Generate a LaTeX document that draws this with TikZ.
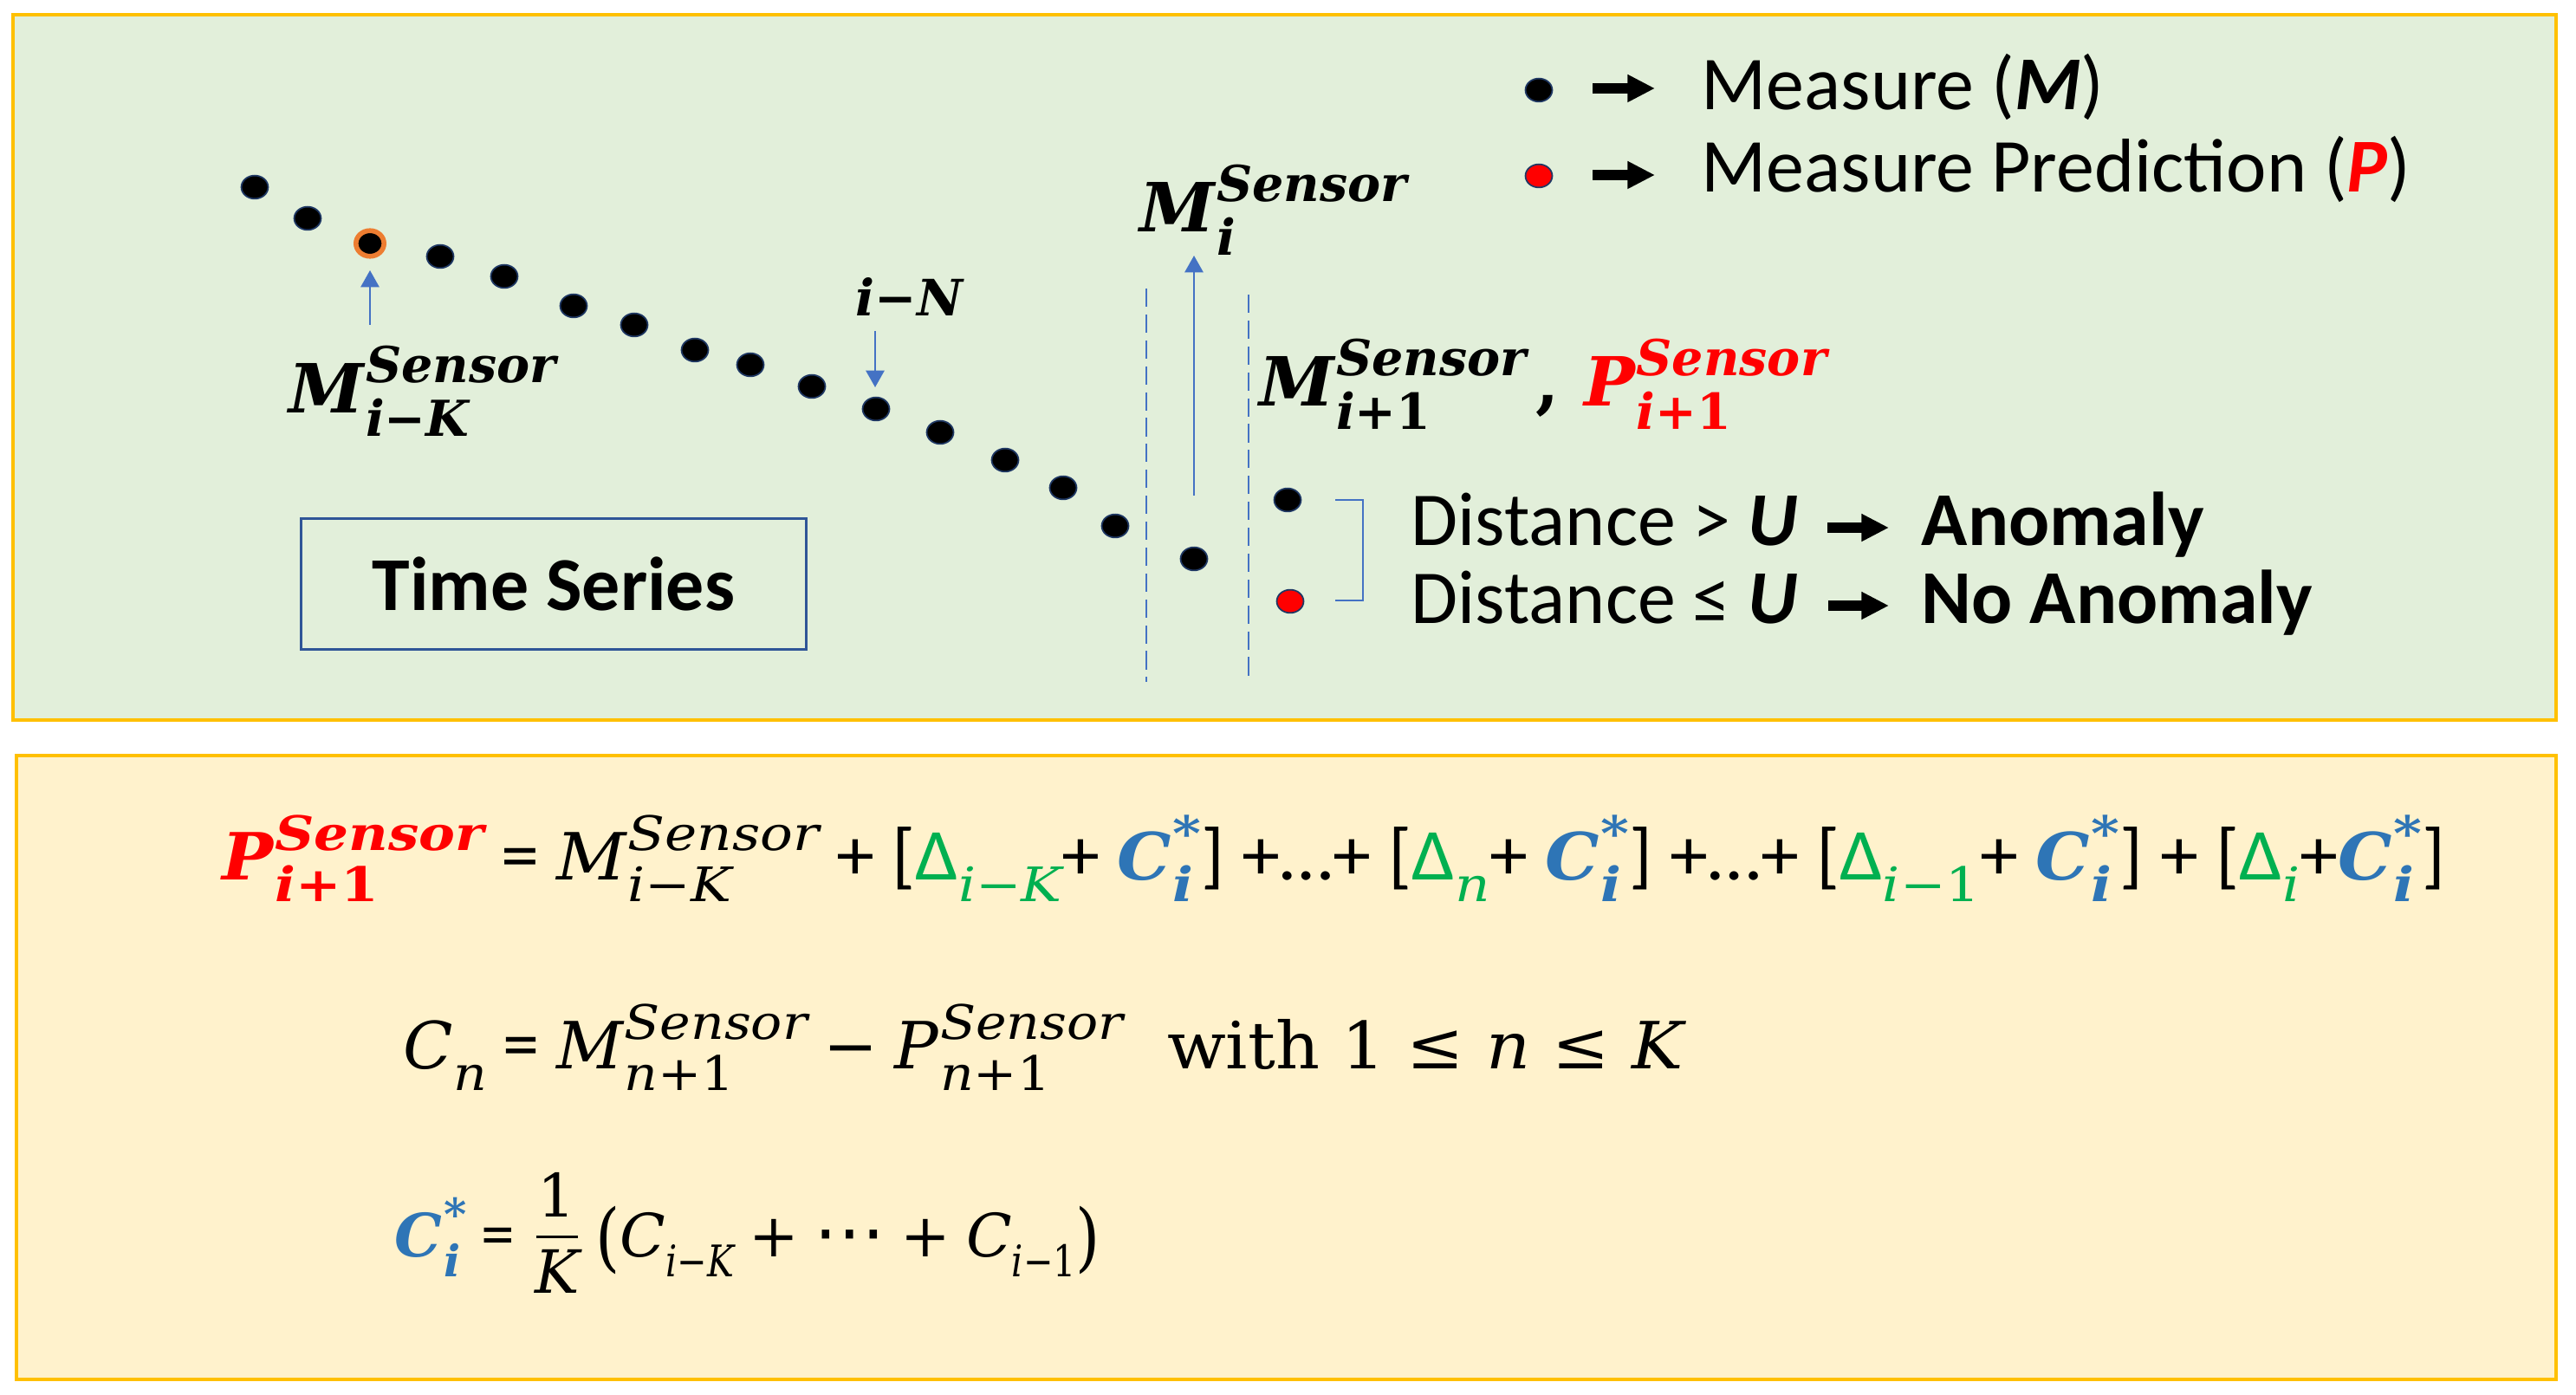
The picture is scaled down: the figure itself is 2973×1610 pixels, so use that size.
\documentclass[tikz,border=0pt]{standalone}
\usepackage{graphicx}
\usepackage{fontspec}
\setmainfont{Carlito}
\newfontfamily\mfont[Scale=0.89]{DejaVu Serif}
\newfontfamily\symfont[Scale=0.89]{DejaVu Sans}
\usetikzlibrary{arrows.meta,shapes.geometric}
\definecolor{topfill}{HTML}{E2EFDA}
\definecolor{botfill}{HTML}{FFF2CC}
\definecolor{gold}{HTML}{FFC000}
\definecolor{arrblue}{HTML}{4472C4}
\definecolor{boxblue}{HTML}{2F5597}
\definecolor{pred}{HTML}{FF0000}
\definecolor{dgreen}{HTML}{00B050}
\definecolor{cblue}{HTML}{2E75B6}
\definecolor{dotedge}{HTML}{1F3864}
\definecolor{orng}{HTML}{ED7D31}
\newcommand\Mit[1]{{\mfont\itshape #1}}
\newcommand\Mbi[1]{{\mfont\bfseries\itshape #1}}
\newcommand\Mrm[1]{{\mfont #1}}
\newcommand\Mbf[1]{{\mfont\bfseries #1}}
\newsavebox\SupBox
\newsavebox\SubBox
\newcommand\SupSub[4][0.73]{#2\sbox\SupBox{\scalebox{#1}[0.73]{#3}}\sbox\SubBox{\scalebox{#1}[0.73]{#4}}\kern0.02em\rlap{\raisebox{0.4em}{\usebox\SupBox}}\raisebox{-0.3em}{\usebox\SubBox}\ifdim\wd\SupBox>\wd\SubBox\kern\dimexpr\wd\SupBox-\wd\SubBox\relax\fi}
\newcommand\SubOnly[3][0.73]{#2\raisebox{-0.3em}{\scalebox{#1}[0.73]{#3}}}
\newcommand\myDelta[1]{{\color{dgreen}\SubOnly[0.8]{Δ}{#1}}}
\newcommand\myCstar{{\color{cblue}\SupSub[0.8]{\Mbi{C}}{\Mbi{*}}{\Mbi{i}}}}
\newcommand\myCstarB{{\color{cblue}\SupSub{\Mbi{C}}{\Mbi{*}}{\Mbi{i}}}}
\newcommand\FracOne{{\mfont\kern0.1em\rlap{\raisebox{0.66em}{\makebox[0.7em]{1}}}\rlap{\raisebox{0.3em}{\rule{0.7em}{0.05em}}}\raisebox{-0.62em}{\makebox[0.7em]{\itshape K}}\kern0.3em}}
\begin{document}
\begin{tikzpicture}[x=0.01cm,y=-0.01cm,
  panel/.style={draw=gold, line width=1.2pt},
  dot/.style={ellipse, fill=black, draw=dotedge, line width=0.5pt, minimum width=8.8pt, minimum height=7.6pt, inner sep=0pt},
  reddot/.style={dot, fill=pred},
  odot/.style={ellipse, fill=black, draw=orng, line width=1.6pt, minimum width=9.2pt, minimum height=8.4pt, inner sep=0pt},
  ptr/.style={draw=arrblue, line width=0.75pt, -{Triangle[length=5.5pt,width=6pt]}},
  guide/.style={draw=arrblue, line width=0.6pt, dash pattern=on 6pt off 2.5pt},
  heavy/.style={draw=black, line width=3.4pt, -{Triangle[length=9pt,width=8.5pt]}},
  txt/.style={inner sep=0pt, anchor=base west}]
\useasboundingbox (0,0) rectangle (2973,1610);
\draw[panel, fill=topfill] (15,17) rectangle (2950,831);
\draw[panel, fill=botfill] (19,872) rectangle (2950,1592);

\foreach \n/\x/\y in {1/294/216, 2/355/252, 4/508/296, 5/582/319, 6/662/353, 7/732/375, 8/802/404, 9/866/421, 10/937/446, 11/1011/472, 12/1085/499, 13/1160/531, 14/1227/563, 15/1287/607, 16/1378/645, 17/1486/577}
  \node[dot] (s\n) at (\x,\y) {};
\node[odot] (s3) at (427,281) {};
\node[reddot] (pred1) at (1489,694) {};

\coordinate (g1t) at (1323,333);
\coordinate (g1b) at (1323,787);
\coordinate (g2t) at (1441,340);
\coordinate (g2b) at (1441,787);
\draw[guide] (g1t) -- (g1b);
\draw[guide] (g2t) -- (g2b);

\node[txt] (labK) at (333,477) {\fontsize{25}{30}\selectfont\SupSub{\Mbi{M}}{\Mbi{Sensor}}{\Mbi{i}\Mbf{−}\Mbi{K}}};
\node[txt] (labN) at (987,365) {\fontsize{18.5}{22}\selectfont\Mbi{i}\Mbf{−}\Mbi{N}};
\node[txt] (labI) at (1315,268) {\fontsize{25}{30}\selectfont\SupSub{\Mbi{M}}{\Mbi{Sensor}}{\Mbi{i}}};
\node[txt] (labM) at (1453,469) {\fontsize{25}{30}\selectfont\SupSub{\Mbi{M}}{\Mbi{Sensor}}{\Mbi{i}\Mbf{+1}}};
\node[txt] (labP) at (1772,469) {\fontsize{25}{30}\selectfont\Mbf{,}\hspace{8pt}\color{pred}\SupSub{\Mbi{P}}{\Mbi{Sensor}}{\Mbi{i}\Mbf{+1}}};

\coordinate (ka) at (427,375);
\coordinate (kb) at (427,312);
\draw[ptr] (ka) -- (kb);
\coordinate (na) at (1010,382);
\coordinate (nb) at (1010,447);
\draw[ptr] (na) -- (nb);
\coordinate (ma) at (1378,572);
\coordinate (mb) at (1378,295);
\draw[ptr] (ma) -- (mb);

\node[draw=boxblue, line width=0.7pt, minimum width=165.9pt, minimum height=43pt, inner sep=0pt] (ts) at (639,674) {\fontsize{25}{30}\selectfont\textbf{Time Series}};

\node[dot] (ldm) at (1776,104) {};
\node[reddot] (ldp) at (1776,203) {};
\coordinate (l1a) at (1838,102);
\coordinate (l1b) at (1910,102);
\coordinate (l2a) at (1838,202);
\coordinate (l2b) at (1910,202);
\draw[heavy] (l1a) -- (l1b);
\draw[heavy] (l2a) -- (l2b);
\node[txt] (lm) at (1963,127) {\fontsize{25}{30}\selectfont Measure (\textbf{\textit{M}})};
\node[txt] (lp) at (1963,222) {\fontsize{25}{30}\selectfont Measure Prediction (\textbf{\textit{\color{pred}P}})};

\draw[draw=arrblue, line width=0.6pt] (1541,577) -- (1573,577) -- (1573,693) -- (1541,693);

\node[txt] (d1) at (1628,630) {\fontsize{25}{30}\selectfont Distance > \textbf{\textit{U}}};
\node[txt] (d2) at (1628,720) {\fontsize{25}{30}\selectfont Distance ≤ \textbf{\textit{U}}};
\coordinate (r1a) at (2109,609);
\coordinate (r1b) at (2180,609);
\coordinate (r2a) at (2110,699);
\coordinate (r2b) at (2180,699);
\draw[heavy] (r1a) -- (r1b);
\draw[heavy] (r2a) -- (r2b);
\node[txt] (an1) at (2217,630) {\fontsize{25}{30}\selectfont\textbf{Anomaly}};
\node[txt] (an2) at (2217,720) {\fontsize{25}{30}\selectfont\textbf{No Anomaly}};

\node[txt] (f1) at (256,1015) {\fontsize{24}{28}\selectfont\scalebox{1.045}[1]{{\color{pred}\SupSub[0.8]{\Mbi{P}}{\Mbi{Sensor}}{\Mbi{i}\Mbf{+1}}} = \SupSub[0.8]{\Mit{M}}{\Mit{Sensor}}{\Mit{i}\Mrm{−}\Mit{K}} + [\myDelta{\Mit{i}\Mrm{−}\Mit{K}}+ \myCstar] +…+ [\myDelta{\Mit{n}}+ \myCstar] +…+ [\myDelta{\Mit{i}\Mrm{−1}}+ \myCstar] + [\myDelta{\Mit{i}}+\myCstar]}};
\node[txt] (f2) at (465,1233) {\fontsize{24}{28}\selectfont\SubOnly[0.8]{\Mit{C}}{\Mit{n}} = \SupSub[0.8]{\Mit{M}}{\Mit{Sensor}}{\Mit{n}\Mrm{+1}} \Mrm{−} \SupSub[0.8]{\Mit{P}}{\Mit{Sensor}}{\Mit{n}\Mrm{+1}}\hspace{0.6em}\scalebox{1.055}[1]{\Mrm{with 1 ≤ \Mit{n} ≤ \Mit{K}}}};
\node[txt] (f3) at (455,1450) {\fontsize{22}{26}\selectfont\myCstarB{} = \FracOne\raisebox{-0.1em}{\scalebox{1.05}[1.25]{\Mrm{(}}}\SubOnly[0.6]{\Mit{C}}{\Mit{i}\Mrm{−}\Mit{K}} \Mrm{+} \scalebox{1.2}{\symfont ⋯} \Mrm{+} \SubOnly[0.6]{\Mit{C}}{\Mit{i}\Mrm{−1}}\raisebox{-0.1em}{\scalebox{1.05}[1.25]{\Mrm{)}}}};
\end{tikzpicture}
\end{document}
